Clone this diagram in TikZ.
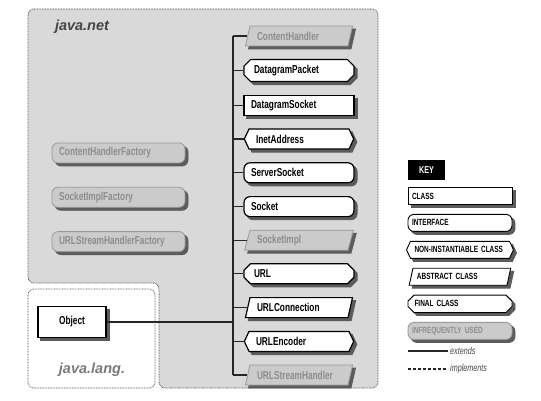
\documentclass[tikz,border=0pt]{standalone}
\usepackage{fontspec}
\setmainfont{Liberation Sans}[FakeStretch=0.72]
\newfontfamily\pkgfont{Liberation Sans}
\usetikzlibrary{shapes.geometric,shapes.misc,shapes.symbols,positioning}
\definecolor{PanelGray}{HTML}{D9D9D9}
\definecolor{RareFill}{HTML}{CBCBCB}
\definecolor{RareText}{HTML}{8C8C8C}
\definecolor{RareLine}{HTML}{999999}
\definecolor{PkgDark}{HTML}{444444}
\definecolor{PkgLight}{HTML}{7A7A7A}
\definecolor{ShadowGray}{HTML}{5C5C5C}
\tikzset{
  boxbase/.style={draw=black,fill=white,line width=1.2pt,minimum height=20pt,inner xsep=7pt,inner ysep=2pt,align=left,font=\fontsize{11.5}{12}\selectfont\bfseries,preaction={draw=ShadowGray,fill=ShadowGray,transform canvas={xshift=3pt,yshift=-3pt}}},
  classbox/.style={boxbase,rectangle,text width=96pt},
  ifacebox/.style={boxbase,rectangle,rounded corners=6pt,text width=96pt},
  finalbox/.style={boxbase,chamfered rectangle,chamfered rectangle xsep=3pt,text width=90pt},
  nonibox/.style={boxbase,signal,signal to=west and east,signal pointer angle=130,text width=86pt},
  abstractbox/.style={boxbase,trapezium,trapezium stretches body,trapezium left angle=70,trapezium right angle=110,text width=84pt},
  rare/.style={draw=RareLine,fill=RareFill,text=RareText,line width=0.8pt},
  objbox/.style={boxbase,rectangle,align=center,minimum width=68pt,minimum height=31pt},
  keysize/.style={minimum height=17pt,inner xsep=4pt,line width=0.9pt,font=\fontsize{9}{9.5}\selectfont\bfseries},
  keyhead/.style={rectangle,fill=black,text=white,minimum width=37pt,minimum height=20pt,font=\fontsize{10}{11}\selectfont\bfseries},
  keytext/.style={inner sep=2pt,anchor=west,text=PkgDark,font=\fontsize{10}{11}\selectfont\itshape},
  pkgborder/.style={draw=black!70,line width=0.7pt,dash pattern=on 0.8pt off 0.8pt,rounded corners=6pt},
  pkglabel/.style={font=\pkgfont\fontsize{14.5}{15}\selectfont\bfseries\itshape},
  extends/.style={line width=1.3pt,color=black!85},
  implements/.style={line width=1.2pt,color=black!85,dash pattern=on 3pt off 2pt},
}
\begin{document}
\begin{tikzpicture}[x=1pt,y=-1pt,node distance=12.6pt]
  \useasboundingbox (0,0) rectangle (541,401);

  % package areas
  \draw[pkgborder,fill=PanelGray] (28,9) -- (378,9) -- (378,388) -- (159,388) -- (159,283) -- (28,283) -- cycle;
  \draw[pkgborder,fill=white] (28,289) rectangle (155,388);
  \node[pkglabel,text=PkgDark] (netlbl) at (82,27) {java.net};
  \node[pkglabel,text=PkgLight] (langlbl) at (92,370) {java.lang.};

  % java.net classes
  \node[abstractbox,rare] (ch) at (299,36) {ContentHandler};
  \node[finalbox,below=of ch] (dgp) {DatagramPacket};
  \node[classbox,below=of dgp] (dgs) {DatagramSocket};
  \node[nonibox,below=of dgs] (inet) {InetAddress};
  \node[ifacebox,below=of inet] (ssock) {ServerSocket};
  \node[ifacebox,below=of ssock] (sock) {Socket};
  \node[abstractbox,rare,below=of sock] (simpl) {SocketImpl};
  \node[finalbox,below=of simpl] (url) {URL};
  \node[abstractbox,below=of url] (urlc) {URLConnection};
  \node[nonibox,below=of urlc] (urle) {URLEncoder};
  \node[abstractbox,rare,below=of urle] (ush) {URLStreamHandler};

  % java.net interfaces
  \node[ifacebox,rare,text width=119pt] (chf) at (118.5,153) {ContentHandlerFactory};
  \node[ifacebox,rare,text width=119pt,below=23.5pt of chf] (sif) {SocketImplFactory};
  \node[ifacebox,rare,text width=119pt,below=23.5pt of sif] (ushf) {URLStreamHandlerFactory};

  % java.lang
  \node[objbox] (obj) at (72,322) {Object};

  % links
  \coordinate (trunk) at (233,0);
  \draw[extends] (ch.west -| trunk) -- (ush.west -| trunk);
  \foreach \n in {ch,dgp,dgs,inet,ssock,sock,simpl,url,urlc,urle,ush}
    \draw[extends] (\n.west -| trunk) -- (\n.west);
  \draw[extends] (obj) -- (obj -| trunk);

  % key
  \node[keyhead] (key) at (426.5,170) {KEY};
  \node[classbox,keysize,text width=96pt] (kclass) at (460,196) {CLASS};
  \node[ifacebox,keysize,text width=96pt,below=9pt of kclass] (kiface) {INTERFACE};
  \node[nonibox,keysize,text width=91pt,below=9pt of kiface] (knoni) {NON-INSTANTIABLE CLASS};
  \node[abstractbox,keysize,text width=86pt,below=9pt of knoni] (kabs) {ABSTRACT CLASS};
  \node[finalbox,keysize,chamfered rectangle xsep=2.5pt,text width=91pt,below=9pt of kabs] (kfinal) {FINAL CLASS};
  \node[ifacebox,rare,keysize,text width=96pt,below=9pt of kfinal] (krare) {INFREQUENTLY USED};
  \coordinate (exta) at (408,351);
  \node[keytext] (extlbl) at (448,351) {extends};
  \draw[extends] (exta) -- (exta -| extlbl.west);
  \coordinate (impa) at (408,369);
  \node[keytext] (implbl) at (448,369) {implements};
  \draw[implements] (impa) -- (impa -| implbl.west);
\end{tikzpicture}
\end{document}
